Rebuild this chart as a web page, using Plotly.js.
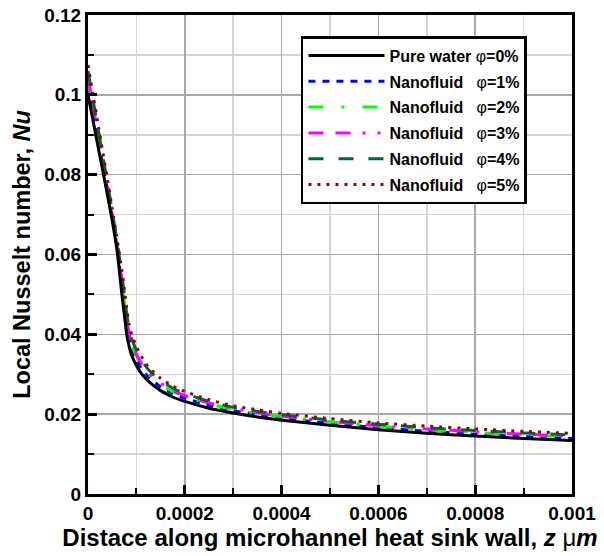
<!DOCTYPE html>
<html>
<head>
<meta charset="utf-8">
<script src="https://cdn.plot.ly/plotly-3.0.1.min.js"></script>
<style>html,body{margin:0;padding:0;background:#fff;}#chart{width:604px;height:556px;}</style>
</head>
<body>
<div id="chart"></div>
<script>
// Distance along wall (m)
const zPos = [0, 1e-5, 2e-5, 3e-5, 4e-5, 5e-5, 6e-5, 7e-5, 7.5e-5, 8e-5, 8.5e-5, 9e-5, 1e-4, 1.1e-4, 1.25e-4, 1.5e-4, 1.75e-4, 2e-4, 2.5e-4, 3e-4, 3.5e-4, 4e-4, 5e-4, 6e-4, 7e-4, 8e-4, 9e-4, 1e-3];

const nuWater = [0.1000, 0.0938, 0.0875, 0.0813, 0.0750, 0.0685, 0.0610, 0.0500, 0.0450, 0.0400, 0.0370, 0.0348, 0.0322, 0.0302, 0.0282, 0.0259, 0.0243, 0.0232, 0.0215, 0.0203, 0.0193, 0.0185, 0.0172, 0.0161, 0.0152, 0.0145, 0.0139, 0.0134];
const nuPhi1 = [0.1020, 0.0957, 0.0893, 0.0828, 0.0763, 0.0695, 0.0620, 0.0518, 0.0470, 0.0420, 0.0386, 0.0363, 0.0336, 0.0315, 0.0293, 0.0268, 0.0251, 0.0240, 0.0222, 0.0209, 0.0199, 0.0190, 0.0177, 0.0166, 0.0157, 0.0150, 0.0144, 0.0139];
const nuPhi2 = [0.1035, 0.0970, 0.0904, 0.0837, 0.0770, 0.0700, 0.0625, 0.0530, 0.0483, 0.0433, 0.0398, 0.0374, 0.0346, 0.0324, 0.0300, 0.0275, 0.0257, 0.0245, 0.0226, 0.0212, 0.0202, 0.0194, 0.0181, 0.0170, 0.0161, 0.0154, 0.0148, 0.0143];
const nuPhi3 = [0.1045, 0.0977, 0.0909, 0.0841, 0.0774, 0.0703, 0.0628, 0.0536, 0.0489, 0.0439, 0.0403, 0.0379, 0.0351, 0.0328, 0.0304, 0.0278, 0.0259, 0.0247, 0.0228, 0.0214, 0.0204, 0.0195, 0.0182, 0.0171, 0.0163, 0.0156, 0.0150, 0.0145];
const nuPhi4 = [0.1060, 0.0990, 0.0921, 0.0851, 0.0782, 0.0709, 0.0634, 0.0548, 0.0502, 0.0452, 0.0414, 0.0390, 0.0360, 0.0336, 0.0311, 0.0284, 0.0265, 0.0252, 0.0232, 0.0217, 0.0207, 0.0199, 0.0185, 0.0175, 0.0166, 0.0159, 0.0153, 0.0148];
const nuPhi5 = [0.1075, 0.1003, 0.0932, 0.0860, 0.0790, 0.0715, 0.0640, 0.0560, 0.0515, 0.0465, 0.0425, 0.0400, 0.0370, 0.0345, 0.0318, 0.0290, 0.0270, 0.0257, 0.0236, 0.0221, 0.0211, 0.0202, 0.0189, 0.0178, 0.0170, 0.0163, 0.0157, 0.0152];

const seriesNames = [
  "<b>Pure water</b> φ<b>=0%</b>",
  "<b>Nanofluid</b>\u00a0\u00a0\u00a0φ<b>=1%</b>",
  "<b>Nanofluid</b>\u00a0\u00a0\u00a0φ<b>=2%</b>",
  "<b>Nanofluid</b>\u00a0\u00a0\u00a0φ<b>=3%</b>",
  "<b>Nanofluid</b>\u00a0\u00a0\u00a0φ<b>=4%</b>",
  "<b>Nanofluid</b>\u00a0\u00a0\u00a0φ<b>=5%</b>"
];

const xTickVals = [0, 0.0002, 0.0004, 0.0006, 0.0008, 0.001];
const xTickLabels = ["0", "0.0002", "0.0004", "0.0006", "0.0008", "0.001"];
const yTickVals = [0, 0.02, 0.04, 0.06, 0.08, 0.1, 0.12];
const yTickLabels = ["0", "0.02", "0.04", "0.06", "0.08", "0.1", "0.12"];

const allY = [nuWater, nuPhi1, nuPhi2, nuPhi3, nuPhi4, nuPhi5];
const styles = [
  {color: "#000000", dash: "solid", width: 3},
  {color: "#0000ff", dash: "7px,7px", width: 3},
  {color: "#00ff00", dash: "15px,18px,3px,18px", width: 3},
  {color: "#ff00ff", dash: "15px,12px,15px,12px,3px,12px,3px,12px", width: 3},
  {color: "#006633", dash: "15px,15px", width: 3},
  {color: "#990000", dash: "3px,6px", width: 3}
];

const traces = allY.map((y, i) => ({
  x: zPos, y: y, type: "scatter", mode: "lines",
  name: seriesNames[i], legendgroup: "g" + i,
  line: Object.assign({shape: "spline", smoothing: 0.6}, styles[i])
}));
// draw water line on top, but keep it first in the legend
const ordered = traces.slice(1).concat([traces[0]]);
ordered.forEach((t, k) => { t.legendrank = (k === ordered.length - 1) ? 1 : k + 2; });

const fontFam = "Liberation Sans, Arial, sans-serif";

const layout = {
  width: 604, height: 556,
  margin: {l: 88, r: 32, t: 15, b: 62},
  paper_bgcolor: "#ffffff", plot_bgcolor: "#ffffff",
  showlegend: true,
  legend: {
    x: 0.44, y: 0.956, xanchor: "left", yanchor: "top",
    bgcolor: "#ffffff", bordercolor: "#000000", borderwidth: 2.5,
    font: {family: fontFam, size: 16, color: "#000"},
    tracegroupgap: 2, itemwidth: 76, traceorder: "grouped"
  },
  xaxis: {
    range: [0, 0.001],
    tickmode: "array", tickvals: xTickVals, ticktext: xTickLabels,
    ticks: "inside", ticklen: 9, tickwidth: 3, tickcolor: "#000",
    showline: true, linewidth: 3, linecolor: "#000", mirror: true,
    showgrid: true, gridcolor: "#a8a8a8", gridwidth: 1.5,
    zeroline: false,
    minor: {dtick: 0.0001, tick0: 0, ticks: "inside", ticklen: 6, tickwidth: 2, tickcolor: "#000", showgrid: true, gridcolor: "#d4d4d4", gridwidth: 1.5},
    tickfont: {family: fontFam, size: 19, color: "#000", weight: "bold"},
    title: {text: "<b>Distace along microhannel heat sink wall, <i>z</i> </b>μ<b><i>m</i></b>", font: {family: fontFam, size: 24, color: "#000"}, standoff: 5}
  },
  yaxis: {
    range: [0, 0.12],
    tickmode: "array", tickvals: yTickVals, ticktext: yTickLabels,
    ticks: "inside", ticklen: 9, tickwidth: 3, tickcolor: "#000",
    showline: true, linewidth: 3, linecolor: "#000", mirror: true,
    showgrid: true, gridcolor: "#a8a8a8", gridwidth: 1.5,
    zeroline: false,
    minor: {dtick: 0.01, tick0: 0, ticks: "inside", ticklen: 6, tickwidth: 2, tickcolor: "#000", showgrid: true, gridcolor: "#d4d4d4", gridwidth: 1.5},
    tickfont: {family: fontFam, size: 19, color: "#000", weight: "bold"},
    title: {text: "<b>Local Nusselt number, <i>Nu</i></b>", font: {family: fontFam, size: 23.5, color: "#000"}, standoff: 7}
  }
};

Plotly.newPlot("chart", ordered, layout, {displayModeBar: false, staticPlot: true});
</script>
</body>
</html>
